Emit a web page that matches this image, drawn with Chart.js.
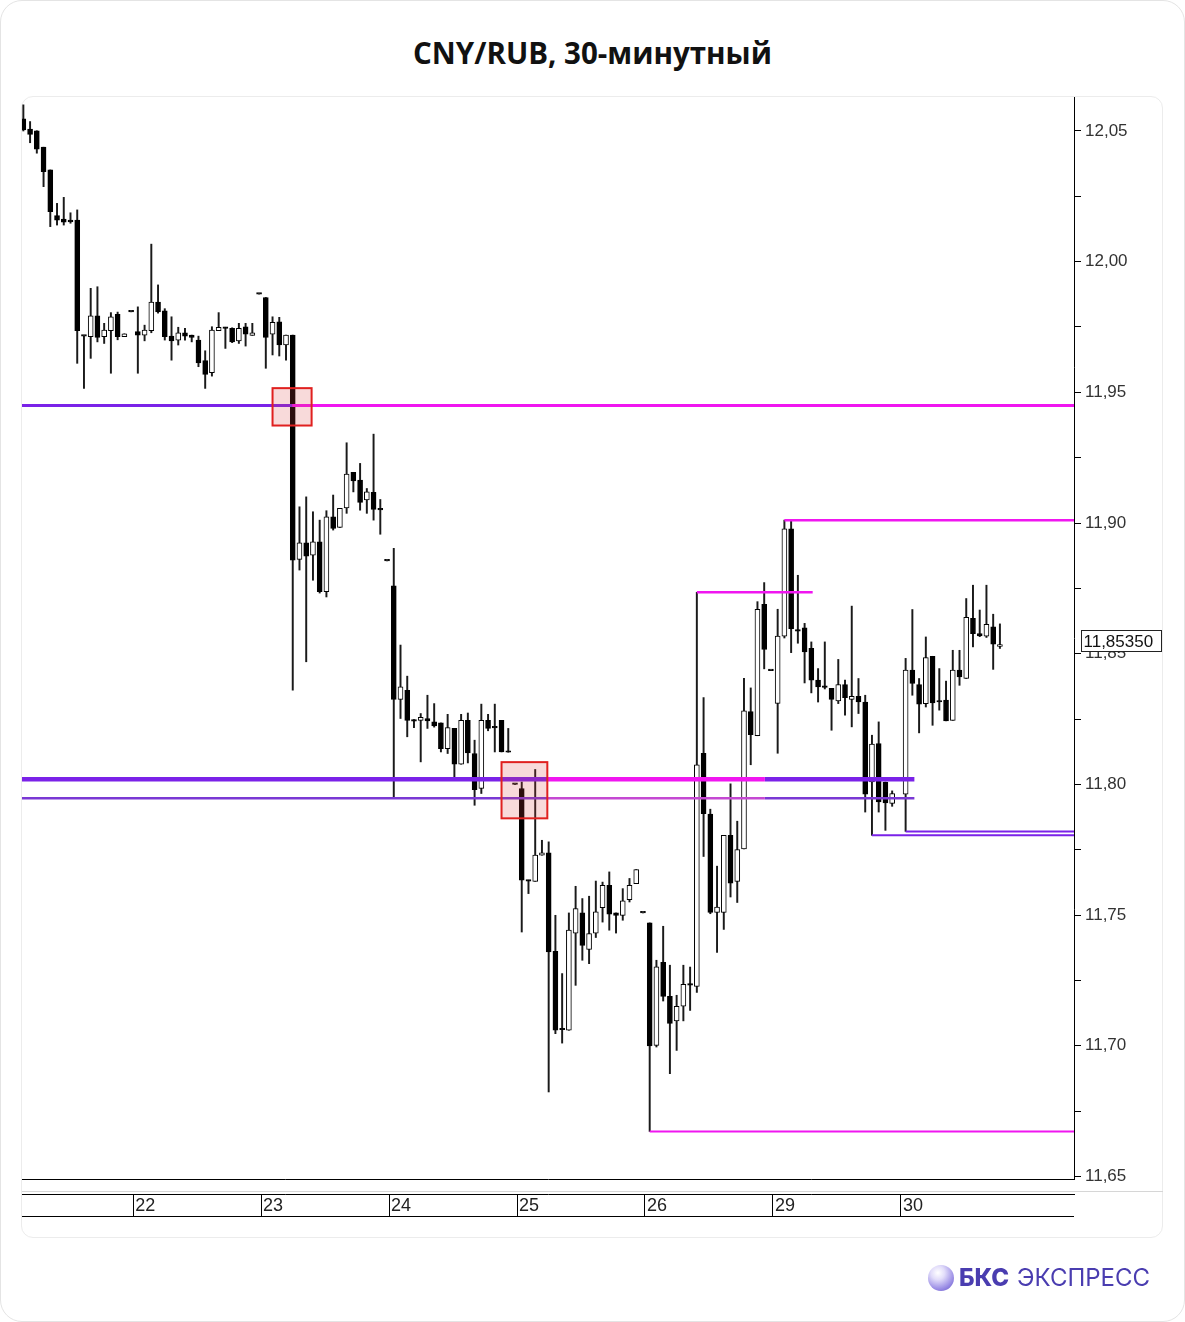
<!DOCTYPE html>
<html>
<head>
<meta charset="utf-8">
<title>CNY/RUB, 30-минутный</title>
<script src="https://cdn.jsdelivr.net/npm/chart.js@4.4.0/dist/chart.umd.min.js"></script>
<style>
    html, body { margin: 0; padding: 0; background: #fff; }
    body { width: 1185px; height: 1322px; position: relative; overflow: hidden; }
    .frame { position: absolute; left: 0; top: 0; width: 1183px; height: 1320px; border: 1px solid #e4e4e4; border-radius: 22px; }
    .card { position: absolute; left: 21px; top: 96px; width: 1140px; height: 1140px; border: 1px solid #ececec; border-radius: 12px; }
    h1 { position: absolute; top: 32px; left: 0; width: 1185px; margin: 0; text-align: center;
         font: 700 29.5px "Open Sans", sans-serif; color: #111; }
    #price-chart { position: absolute; left: 0; top: 0; }
    .logo { position: absolute; left: 928px; top: 1263px; display: flex; align-items: center;
            font-family: "Inter", "Noto Sans", sans-serif; font-size: 24px; color: #4a3db0; }
    .logo .ball { width: 26px; height: 26px; border-radius: 50%; margin-right: 5px;
            background: radial-gradient(circle at 38% 30%, #ffffff 0%, #e2ddfa 28%, #9d90e6 65%, #5d4cc6 100%); }
    .logo b { font-weight: 800; margin-right: 8px; }
</style>
</head>
<body>
<div class="frame"></div>
<div class="card"></div>
<h1>CNY/RUB, 30-минутный</h1>
<canvas id="price-chart" width="1185" height="1322"></canvas>
<div class="logo"><span class="ball"></span><b>БКС</b><span>ЭКСПРЕСС</span></div>

<script>
// 30-min candles, index 0 = first bar on the 21st (130 = no bar)
const opens = [
    12.0546, 12.0507, 12.0501, 12.0438, 12.0351, 12.0176, 12.0163, 12.0159, 12.0159, 11.9715,
    11.9713, 11.9793, 11.9713, 11.9736, 11.9798, 11.9713, 11.9808, 11.9732, 11.9719, 11.9736,
    11.9845, 11.9812, 11.9715, 11.9700, 11.9728, 11.9719, 11.9700, 11.9621, 11.9575, 11.9736,
    11.9749, 11.9745, 11.9697, 11.9751, 11.9718, 11.9876, 11.9863, 11.9723, 11.9770, 11.9681,
    11.9719, 11.8861, 11.8924, 11.8877, 11.8928, 11.8737, 11.9024, 11.8983, 11.9058, 11.9194,
    11.9164, 11.9088, 11.9117, 11.9052, 11.8855, 11.8760, 11.8325, 11.8360, 11.8248, 11.8245,
    11.8252, 11.8239, 11.8235, 11.8137, 11.8214, 11.8077, 11.8245, 11.8118, 11.7984, 11.8245,
    11.8216, 11.8245, 11.8123, 11.8000, 11.7984, 11.7633, 11.7629, 11.7729, 11.7738, 11.7361,
    11.7061, 11.7059, 11.7431, 11.7508, 11.7368, 11.7431, 11.7528, 11.7614, 11.7508, 11.7499,
    11.7559, 11.7620, 11.7508, 11.7470, 11.7001, 11.7319, 11.7189, 11.7095, 11.7151, 11.7232,
    11.7227, 11.8119, 11.7886, 11.7510, 11.7510, 11.7805, 11.7629, 11.7753, 11.8278, 11.8186,
    11.8689, 11.8435, 11.8310, 11.8567, 11.8978, 11.8586, 11.8599, 11.8520, 11.8399, 11.8371,
    11.8367, 11.8319, 11.8382, 11.8325, 11.8337, 11.8315, 11.8009, 11.8156, 11.8009, 11.7927,
    null,    11.7962, 11.8437, 11.8382, 11.8309, 11.8490, 11.8315, 11.8322, 11.8245, 11.8437,
    11.8405, 11.8635, 11.8577, 11.8567, 11.8603, 11.8528
];
const highs = [
    12.0600, 12.0536, 12.0501, 12.0438, 12.0351, 12.0223, 12.0246, 12.0187, 12.0198, 11.9715,
    11.9898, 11.9904, 11.9764, 11.9805, 11.9807, 11.9724, 11.9808, 11.9827, 11.9757, 12.0067,
    11.9911, 11.9820, 11.9789, 11.9749, 11.9745, 11.9719, 11.9715, 11.9659, 11.9751, 11.9805,
    11.9749, 11.9747, 11.9764, 11.9764, 11.9764, 11.9876, 11.9863, 11.9789, 11.9787, 11.9719,
    11.9719, 11.9062, 11.9100, 11.9043, 11.9011, 11.9047, 11.9107, 11.9056, 11.9307, 11.9194,
    11.9228, 11.9132, 11.9340, 11.9090, 11.8855, 11.8903, 11.8533, 11.8414, 11.8248, 11.8271,
    11.8341, 11.8309, 11.8235, 11.8268, 11.8214, 11.8268, 11.8273, 11.8169, 11.8307, 11.8268,
    11.8307, 11.8245, 11.8214, 11.8000, 11.8009, 11.7633, 11.8057, 11.7786, 11.7780, 11.7499,
    11.7276, 11.7508, 11.7610, 11.7563, 11.7572, 11.7630, 11.7626, 11.7665, 11.7508, 11.7601,
    11.7640, 11.7674, 11.7508, 11.7470, 11.7327, 11.7457, 11.7308, 11.7193, 11.7308, 11.7301,
    11.8735, 11.8332, 11.7905, 11.7687, 11.7805, 11.8002, 11.7859, 11.8406, 11.8369, 11.8699,
    11.8772, 11.8435, 11.8670, 11.9011, 11.9011, 11.8800, 11.8616, 11.8545, 11.8443, 11.8545,
    11.8367, 11.8478, 11.8399, 11.8682, 11.8405, 11.8341, 11.8188, 11.8239, 11.8009, 11.7975,
    null,    11.8482, 11.8669, 11.8405, 11.8564, 11.8490, 11.8443, 11.8395, 11.8513, 11.8513,
    11.8711, 11.8762, 11.8667, 11.8762, 11.8651, 11.8614
];
const lows = [
    12.0500, 12.0455, 12.0415, 12.0287, 12.0134, 12.0140, 12.0140, 12.0147, 11.9611, 11.9515,
    11.9630, 11.9693, 11.9687, 11.9573, 11.9701, 11.9713, 11.9808, 11.9573, 11.9697, 11.9728,
    11.9803, 11.9700, 11.9623, 11.9681, 11.9700, 11.9693, 11.9598, 11.9515, 11.9562, 11.9736,
    11.9668, 11.9690, 11.9687, 11.9677, 11.9718, 11.9876, 11.9592, 11.9643, 11.9639, 11.9623,
    11.8360, 11.8820, 11.8469, 11.8781, 11.8732, 11.8717, 11.8973, 11.8983, 11.9037, 11.9119,
    11.9049, 11.9037, 11.9011, 11.8957, 11.8855, 11.7952, 11.8252, 11.8182, 11.8217, 11.8086,
    11.8214, 11.8219, 11.8124, 11.8118, 11.8028, 11.8077, 11.8082, 11.7920, 11.7965, 11.8205,
    11.8124, 11.8124, 11.8123, 11.8000, 11.7435, 11.7582, 11.7629, 11.7729, 11.6823, 11.7046,
    11.7010, 11.7059, 11.7231, 11.7327, 11.7314, 11.7414, 11.7473, 11.7442, 11.7431, 11.7480,
    11.7550, 11.7620, 11.7508, 11.6672, 11.6995, 11.7171, 11.6893, 11.6982, 11.7095, 11.7135,
    11.7204, 11.7724, 11.7505, 11.7357, 11.7445, 11.7569, 11.7548, 11.7753, 11.8075, 11.8186,
    11.8442, 11.8435, 11.8119, 11.8560, 11.8504, 11.8540, 11.8388, 11.8350, 11.8315, 11.8365,
    11.8207, 11.8309, 11.8265, 11.8220, 11.8271, 11.7894, 11.7805, 11.7894, 11.7824, 11.7916,
    null,    11.7820, 11.8341, 11.8197, 11.8296, 11.8226, 11.8284, 11.8243, 11.8245, 11.8379,
    11.8405, 11.8526, 11.8565, 11.8562, 11.8440, 11.8520
];
const closes = [
    12.0504, 12.0487, 12.0430, 12.0344, 12.0191, 12.0159, 12.0151, 12.0152, 11.9736, 11.9715,
    11.9793, 11.9710, 11.9738, 11.9789, 11.9713, 11.9724, 11.9808, 11.9719, 11.9738, 11.9845,
    11.9808, 11.9713, 11.9697, 11.9728, 11.9715, 11.9710, 11.9613, 11.9569, 11.9738, 11.9749,
    11.9745, 11.9693, 11.9745, 11.9723, 11.9728, 11.9876, 11.9710, 11.9768, 11.9681, 11.9719,
    11.8858, 11.8924, 11.8873, 11.8928, 11.8737, 11.9024, 11.8979, 11.9056, 11.9187, 11.9161,
    11.9079, 11.9119, 11.9052, 11.9050, 11.8855, 11.8325, 11.8373, 11.8245, 11.8242, 11.8256,
    11.8243, 11.8224, 11.8137, 11.8217, 11.8077, 11.8245, 11.8120, 11.7980, 11.8245, 11.8214,
    11.8216, 11.8124, 11.8123, 11.8000, 11.7633, 11.7630, 11.7729, 11.7738, 11.7359, 11.7059,
    11.7061, 11.7442, 11.7525, 11.7384, 11.7429, 11.7512, 11.7614, 11.7503, 11.7499, 11.7554,
    11.7614, 11.7674, 11.7508, 11.6999, 11.7302, 11.7189, 11.7085, 11.7151, 11.7235, 11.7232,
    11.8075, 11.7888, 11.7510, 11.7530, 11.7805, 11.7622, 11.7750, 11.8281, 11.8190, 11.8670,
    11.8516, 11.8435, 11.8567, 11.8978, 11.8596, 11.8586, 11.8507, 11.8399, 11.8373, 11.8371,
    11.8325, 11.8382, 11.8332, 11.8337, 11.8315, 11.7962, 11.8154, 11.7933, 11.7929, 11.7965,
    null,    11.8437, 11.8386, 11.8307, 11.8485, 11.8312, 11.8315, 11.8243, 11.8437, 11.8411,
    11.8639, 11.8577, 11.8568, 11.8612, 11.8536, 11.8535
];

// days: label and index of the first bar of the day
const dayLabels = ["22", "23", "24", "25", "26", "29", "30"];
const dayStarts = [16, 35, 54, 73, 92, 111, 130];

const yTicks = [11.65, 11.675, 11.70, 11.725, 11.75, 11.775, 11.80, 11.825, 11.85,
                11.875, 11.90, 11.925, 11.95, 11.975, 12.00, 12.025, 12.05];

// horizontal levels (price) and the bar range each piece covers
const levelPrices = [11.9450, 11.8020, 11.7947, 11.9011, 11.8735, 11.6672, 11.7805, 11.7820];
const levelPieces = [
    [0, null, 39.9, "violet"], [0, 39.9, null, "magenta"],
    [1, null, 77.8, "violet"], [1, 77.8, 110.1, "magenta"], [1, 110.1, 132.3, "violet"],
    [2, null, 77.8, "purple"], [2, 77.8, 110.1, "pink"], [2, 110.1, 132.3, "purple"],
    [3, 113, null, "magenta"],
    [4, 100, 117.2, "magenta"],
    [5, 93, null, "magenta"],
    [6, 126, null, "violet"],
    [7, 131, null, "violet"]
];
// highlighted zones: [from bar, to bar, top price, bottom price]
const zones = [
    [37.0, 42.8, 11.9516, 11.9373],
    [71.0, 77.8, 11.8085, 11.7870]
];

const X_MIN = -0.2, X_MAX = 156;
const colors = { violet: "#7a22e8", magenta: "#f016f0", purple: "#7a38d4", pink: "#c448d2" };
const levelWidth = [3, 4.5, 2.5, 2.5, 2.5, 2, 2, 2];

const bars = opens.map((o, i) => i).filter(i => opens[i] !== null);
const lastIdx = bars[bars.length - 1];
const fmt = (v, d) => v.toFixed(d).replace(".", ",");

let lineSets = levelPieces.map(p => ({
    type: "line",
    data: [{ x: p[1] === null ? X_MIN : p[1], y: levelPrices[p[0]] },
           { x: p[2] === null ? X_MAX : p[2], y: levelPrices[p[0]] }],
    borderColor: colors[p[3]],
    borderWidth: levelWidth[p[0]],
    pointRadius: 0,
    order: 0,
}));

let extras = {
    id: "extras",
    afterDatasetsDraw(chart) {
        const { ctx, scales: { x, y } } = chart;
        ctx.save();
        zones.forEach(z => {
            const l = x.getPixelForValue(z[0]), r = x.getPixelForValue(z[1]);
            const t = y.getPixelForValue(z[2]), b = y.getPixelForValue(z[3]);
            ctx.fillStyle = "rgba(220, 70, 70, 0.2)";
            ctx.fillRect(l, t, r - l, b - t);
            ctx.strokeStyle = "#e0201f";
            ctx.lineWidth = 2;
            ctx.strokeRect(l, t, r - l, b - t);
        });
        ctx.restore();
    },
    afterDraw(chart) {
        const { ctx, chartArea, scales: { y, xd } } = chart;
        ctx.save();
        // strip lines under the chart
        ctx.fillStyle = "#d6d6d6";
        ctx.fillRect(chartArea.left, xd.top - 3, chart.width - 22 - chartArea.left, 1);
        ctx.fillStyle = "#000";
        ctx.fillRect(chartArea.left, xd.bottom - 1, chartArea.right - chartArea.left, 1);
        // last price tag
        const py = Math.round(y.getPixelForValue(closes[lastIdx])) - 4;
        const bx = chartArea.right + 7.5, by = py - 10.5;
        ctx.fillStyle = "#fff";
        ctx.fillRect(bx, by, 80, 21);
        ctx.strokeStyle = "#222";
        ctx.lineWidth = 1;
        ctx.strokeRect(bx, by, 80, 21);
        ctx.fillStyle = "#111";
        ctx.font = "17px 'Liberation Sans', Arial, sans-serif";
        ctx.textBaseline = "middle";
        ctx.fillText(fmt(closes[lastIdx], 5), bx + 2, py + 1);
        ctx.restore();
    }
};

new Chart(document.getElementById("price-chart").getContext("2d"), {
    type: "bar",
    data: {
        datasets: [
            ...lineSets,
            {
                label: "body",
                data: bars.map(i => ({ x: i, y: [opens[i], closes[i]] })),
                backgroundColor: bars.map(i => closes[i] > opens[i] ? "#fff" : "#000"),
                borderColor: "#000",
                borderWidth: 1,
                borderSkipped: false,
                barThickness: 5,
                minBarLength: 1.5,
                grouped: false,
                order: 1,
            },
            {
                label: "wick",
                data: bars.map(i => ({ x: i, y: [lows[i], highs[i]] })),
                backgroundColor: "#1a1a1a",
                borderWidth: 0,
                barThickness: 1.3,
                grouped: false,
                order: 2,
            },
        ],
    },
    options: {
        responsive: false,
        animation: false,
        events: [],
        layout: { padding: { left: 22, top: 97, right: 0, bottom: 105 } },
        plugins: { legend: { display: false }, tooltip: { enabled: false } },
        scales: {
            x: {
                type: "linear",
                min: X_MIN, max: X_MAX,
                offset: false,
                weight: 0,
                grid: { display: false, offset: false },
                border: { display: true, color: "#000", width: 1 },
                ticks: { display: false },
                afterFit: s => { s.height = 15; },
            },
            xd: {
                type: "linear",
                position: "bottom",
                min: X_MIN, max: X_MAX,
                offset: false,
                weight: 1,
                afterBuildTicks: s => { s.ticks = dayStarts.map(d => ({ value: d + 0.3 })); },
                grid: { drawOnChartArea: false, offset: false, color: "#000", tickLength: 23, lineWidth: 1 },
                border: { display: true, color: "#000", width: 1 },
                ticks: {
                    autoSkip: false, maxRotation: 0, align: "start", labelOffset: 2, padding: -22,
                    color: "#222",
                    font: { family: "'Liberation Sans', Arial, sans-serif", size: 18 },
                    callback: (v, i) => dayLabels[i],
                },
                afterFit: s => { s.height = 23; },
            },
            y: {
                type: "linear",
                position: "right",
                min: 11.649, max: 12.063,
                afterBuildTicks: s => { s.ticks = yTicks.map(v => ({ value: v })); },
                grid: { drawOnChartArea: false, color: "#000", tickLength: 7 },
                border: { display: true, color: "#000", width: 1 },
                ticks: {
                    padding: 4,
                    color: "#333",
                    font: { family: "'Liberation Sans', Arial, sans-serif", size: 17 },
                    callback: (v, i) => i % 2 === 0 ? fmt(v, 2) : "",
                },
                afterFit: s => { s.width = 111; },
            },
        },
    },
    plugins: [extras],
});
</script>
</body>
</html>
